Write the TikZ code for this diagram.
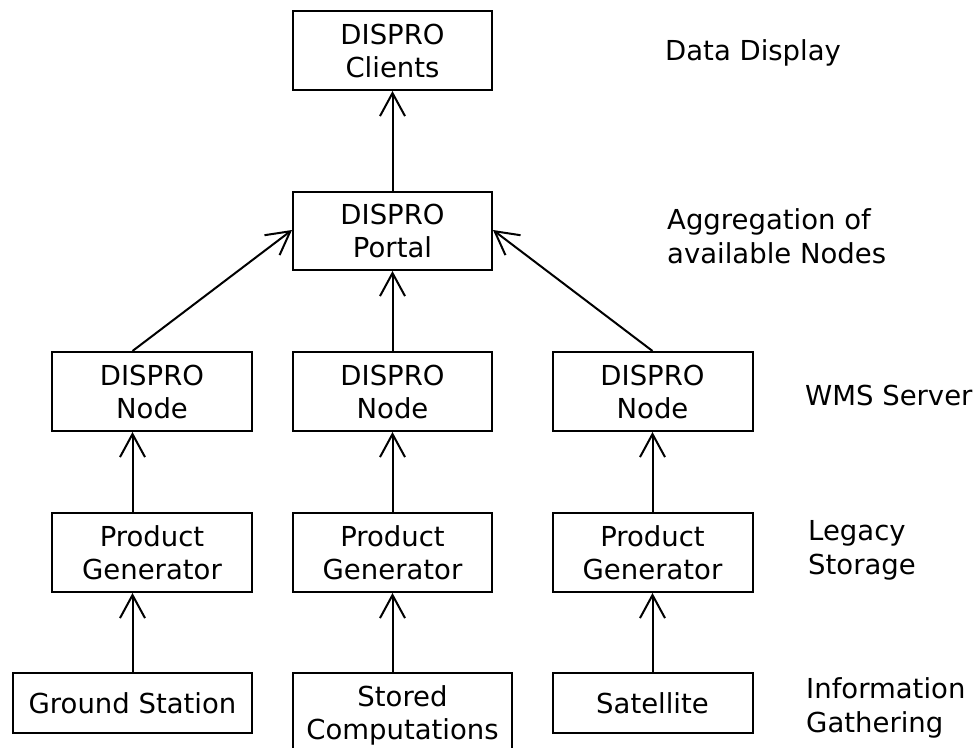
\documentclass[tikz,border=0pt]{standalone}
\usepackage{fontspec}
\setmainfont{DejaVu Sans}
\usetikzlibrary{arrows.meta}
\tikzset{
  box/.style={draw, line width=2pt, inner sep=0pt, align=center,
    font=\fontsize{27.5}{33}\selectfont},
  tallbox/.style={box, minimum width=199pt, minimum height=79pt},
  lbl/.style={anchor=base west, align=left, inner sep=0pt,
    font=\fontsize{27.5}{34}\selectfont},
  arr/.style={line width=2pt, -{Straight Barb[length=23pt,width=25pt,line width=2pt]}}
}
\begin{document}
\begin{tikzpicture}[x=1pt,y=-1pt]
\useasboundingbox (0,0) rectangle (977,747);
% boxes
\node[tallbox] (clients) at (392.5,50.5) {DISPRO\\Clients};
\node[tallbox, minimum height=78pt] (portal) at (392.5,231) {DISPRO\\Portal};
\node[tallbox, minimum width=200pt] (nodeL) at (152,391.5) {DISPRO\\Node};
\node[tallbox] (nodeM) at (392.5,391.5) {DISPRO\\Node};
\node[tallbox, minimum width=200pt] (nodeR) at (652.5,391.5) {DISPRO\\Node};
\node[tallbox, minimum width=200pt] (pgL) at (152,552.5) {Product\\Generator};
\node[tallbox] (pgM) at (392.5,552.5) {Product\\Generator};
\node[tallbox, minimum width=200pt] (pgR) at (652.5,552.5) {Product\\Generator};
\node[box, minimum width=239pt, minimum height=60pt] (gs) at (132.5,703) {Ground Station};
\node[box, minimum width=219pt, minimum height=85pt] (sc) at (402.5,715.5) {Stored\\Computations};
\node[box, minimum width=200pt, minimum height=60pt] (sat) at (652.5,703) {Satellite};
% connectors
\draw[arr] (gs.north) -- (gs.north |- pgL.south);
\draw[arr] (pgL.north -| gs.north) -- (nodeL.south -| gs.north);
\draw[arr] (nodeL.north -| gs.north) -- ([yshift=1pt]portal.west);
\draw[arr] (sc.north -| pgM.south) -- (pgM.south);
\draw[arr] (pgM.north) -- (nodeM.south);
\draw[arr] (nodeM.north) -- (portal.south);
\draw[arr] (portal.north) -- (clients.south);
\draw[arr] (sat.north) -- (pgR.south);
\draw[arr] (pgR.north) -- (nodeR.south);
\draw[arr] (nodeR.north) -- ([yshift=1pt]portal.east);
% labels (base = last line)
\node[lbl] (l1) at (665,60) {Data Display};
\node[lbl] (l2) at (667,263) {Aggregation of\\available Nodes};
\node[lbl] (l3) at (805,405) {WMS Server};
\node[lbl] (l4) at (808,574) {Legacy\\Storage};
\node[lbl] (l5) at (806,732) {Information\\Gathering};
\end{tikzpicture}
\end{document}
